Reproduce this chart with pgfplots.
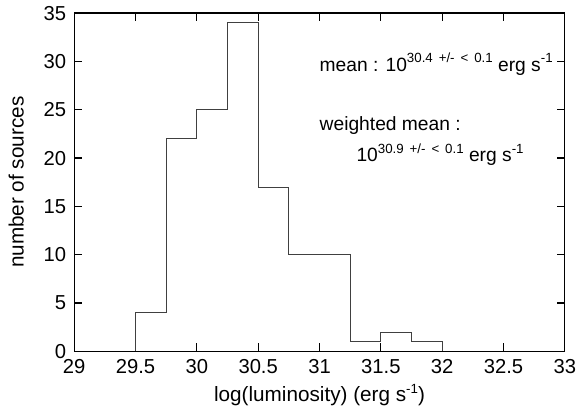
\documentclass[border=0pt]{standalone}
\usepackage{pgfplots}
\pgfplotsset{compat=1.18}
\usepackage{fontspec}
\setmainfont{Liberation Sans}
\newcommand{\sups}[1]{\raisebox{0.42em}{\fontsize{13.5}{15}\selectfont #1}}
\begin{document}
\fontsize{18}{21}\selectfont
\begin{tikzpicture}
\begin{axis}[
  name=ax, at={(0,0)}, anchor=south west,
  scale only axis, width=496bp, height=342bp,
  xmin=29, xmax=33, ymin=0, ymax=35,
  xtick={29,29.5,...,33}, ytick={0,5,...,35},
  xticklabels={29,29.5,30,30.5,31,31.5,32,32.5,33},
  tick align=inside, major tick length=8bp,
  tick style={black, line width=1.2pt},
  axis line style={black, line width=1.2pt},
  /pgf/number format/assume math mode=true,
  tick label style={font=\fontsize{20.5}{23}\selectfont},
  xlabel={log(luminosity) (erg s\sups{-1})},
  ylabel={number of sources},
  label style={font=\fontsize{21}{24}\selectfont},
  xlabel style={at={(axis description cs:0.5,0)}, anchor=base, yshift=-51bp},
  ylabel style={at={(axis description cs:0,0.5)}, anchor=base, yshift=51bp},
  xticklabel style={yshift=-2bp},
  yticklabel style={xshift=-2bp},
  clip=false,
]
\addplot[const plot mark left, color=black!75, line width=0.9pt] coordinates {
  (29.5,0) (29.5,4) (29.75,22) (30,25) (30.25,34) (30.5,17) (30.75,10) (31,10)
  (31.25,1) (31.5,2) (31.75,1) (32,1) (32,0)
};
\node[anchor=base west, inner sep=0pt, font=\fontsize{19.5}{22}\selectfont] at (axis cs:31.0,29.0)
  {mean : 10\sups{30.4 \,+/- \,< \,0.1} erg s\sups{-1}};
\node[anchor=base west, inner sep=0pt, font=\fontsize{19.5}{22}\selectfont] at (axis cs:31.0,22.8)
  {weighted mean :};
\node[anchor=base west, inner sep=0pt, font=\fontsize{19.5}{22}\selectfont] at (axis cs:31.3,19.6)
  {10\sups{30.9 \,+/- \,< \,0.1} erg s\sups{-1}};
\end{axis}
\path[use as bounding box] (-75bp,-68bp) rectangle (507bp,353bp);
\end{tikzpicture}
\end{document}
